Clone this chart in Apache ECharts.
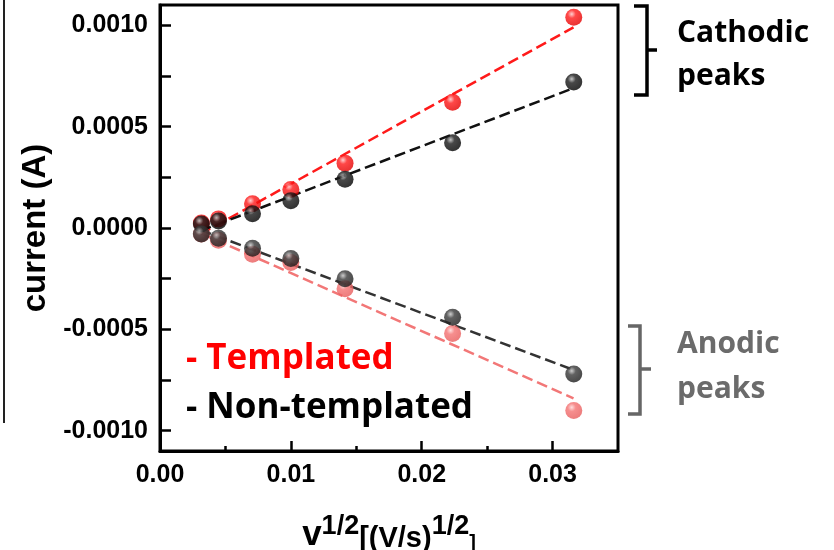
<!DOCTYPE html>
<html>
<head>
<meta charset="utf-8">
<script src="https://cdn.jsdelivr.net/npm/echarts@6/dist/echarts.min.js"></script>
<style>
  html, body { margin: 0; padding: 0; background: #fff; }
  #chart { width: 834px; height: 550px; }
</style>
</head>
<body>
<div id="chart"></div>
<script>
// square root of scan rate, (V/s)^1/2
const sqrtRate = [0.00316, 0.00447, 0.00707, 0.0100, 0.01414, 0.02236, 0.03162];

// cathodic peak currents (A)
const cathTemplated = [0.000025, 0.000045, 0.00012, 0.00019, 0.00032, 0.00062, 0.00104];
const cathNonTemplated = [0.00002, 0.000035, 0.00007, 0.000135, 0.00024, 0.00042, 0.00072];
// anodic peak currents (A)
const anodTemplated = [-0.00003, -0.00006, -0.00013, -0.00017, -0.0003, -0.00052, -0.0009];
const anodNonTemplated = [-0.00003, -0.00005, -0.0001, -0.00015, -0.00025, -0.00044, -0.00072];

// linear fit lines, end points
const fitCathTemplated = [[0.0031, -0.00003], [0.0316, 0.00099]];
const fitCathNonTemplated = [[0.0031, -0.000014], [0.0316, 0.00069]];
const fitAnodTemplated = [[0.0031, -0.000025], [0.0316, -0.00084]];
const fitAnodNonTemplated = [[0.0031, -0.00001], [0.0316, -0.0007]];

const xMajor = [0, 0.01, 0.02, 0.03];
const xMinor = [0.005, 0.015, 0.025];
const yLabels = [-0.001, -0.0005, 0, 0.0005, 0.001];
const yTicks = [-0.001, -0.00075, -0.0005, -0.00025, 0, 0.00025, 0.0005, 0.00075, 0.001];

const pair = (xs, ys) => xs.map((x, i) => [x, ys[i]]);

function ball(hi, mid, edge) {
  return {
    type: 'radial', x: 0.38, y: 0.32, r: 0.68,
    colorStops: [
      { offset: 0, color: hi },
      { offset: 0.35, color: mid },
      { offset: 1, color: edge }
    ]
  };
}

const chart = echarts.init(document.getElementById('chart'));
const labelFont = { fontFamily: 'Liberation Sans', fontWeight: 'bold', color: '#000' };

function fitLine(data, color) {
  return {
    type: 'line', data: data, symbol: 'none', z: 2, silent: true,
    lineStyle: { color: color, width: 2.5, type: [11, 5] }
  };
}
function dots(data, fill) {
  return {
    type: 'scatter', data: data, symbol: 'circle', symbolSize: 17, z: 3,
    itemStyle: { color: fill }
  };
}

chart.setOption({
  animation: false,
  grid: {
    left: 160, right: 216, top: 5, bottom: 99,
    outerBoundsMode: 'none', containLabel: false,
    show: true, borderColor: '#000', borderWidth: 3, backgroundColor: '#fff'
  },
  xAxis: [{
    type: 'value', min: 0, max: 0.035, interval: 0.01,
    axisLine: { show: true, onZero: false, lineStyle: { color: '#000', width: 3 } },
    axisTick: { show: true, inside: true, length: 10, customValues: xMajor, lineStyle: { color: '#000', width: 2.5 } },
    axisLabel: Object.assign({ fontSize: 25, margin: 12, customValues: xMajor,
      formatter: v => v.toFixed(2) }, labelFont),
    splitLine: { show: false },
    name: '{v|v}{sup|1/2}{sub|[(V/s)}{sup|1/2}{br|]}',
    nameLocation: 'middle', nameGap: 62,
    nameTextStyle: {
      rich: {
        v: { fontFamily: 'Liberation Sans', fontWeight: 'bold', fontSize: 35, lineHeight: 40, verticalAlign: 'bottom', color: '#000' },
        sup: { fontFamily: 'Liberation Sans', fontWeight: 'bold', fontSize: 27, lineHeight: 26, verticalAlign: 'top', color: '#000' },
        sub: { fontFamily: 'Liberation Sans', fontWeight: 'bold', fontSize: 29, lineHeight: 28, verticalAlign: 'bottom', color: '#000' },
        br: { fontFamily: 'Liberation Sans', fontWeight: 'bold', fontSize: 20, lineHeight: 20, verticalAlign: 'bottom', color: '#000' }
      }
    }
  }, {
    type: 'value', min: 0, max: 0.035, position: 'bottom',
    axisLine: { show: false, onZero: false },
    axisTick: { show: true, inside: true, length: 5, customValues: xMinor, lineStyle: { color: '#000', width: 2.5 } },
    axisLabel: { show: false },
    splitLine: { show: false }
  }],
  yAxis: {
    type: 'value', min: -0.0011, max: 0.0011,
    axisLine: { show: true, onZero: false, lineStyle: { color: '#000', width: 3 } },
    axisTick: { show: true, inside: true, length: 11, customValues: yTicks, lineStyle: { color: '#000', width: 2.5 } },
    axisLabel: Object.assign({ fontSize: 25, margin: 12, customValues: yLabels,
      formatter: v => v.toFixed(4) }, labelFont),
    splitLine: { show: false },
    name: 'current (A)', nameLocation: 'middle', nameGap: 108,
    nameTextStyle: { fontFamily: 'Liberation Sans', fontWeight: 'bold', fontSize: 33, color: '#000' }
  },
  series: [
    fitLine(fitCathTemplated, '#ff1a1a'),
    fitLine(fitCathNonTemplated, '#111'),
    fitLine(fitAnodTemplated, '#f27777'),
    fitLine(fitAnodNonTemplated, '#333'),
    dots(pair(sqrtRate, cathTemplated), ball('#ffc4c4', '#ff1a1a', '#e40000')),
    dots(pair(sqrtRate, anodTemplated), ball('#ffd6d6', '#f47272', '#e85c5c')),
    dots(pair(sqrtRate, cathNonTemplated), ball('#b8b8b8', '#1a1a1a', '#000')),
    dots(pair(sqrtRate, anodNonTemplated), ball('#c0c0c0', '#3a3a3a', '#1c1c1c'))
  ],
  graphic: [
    // leftover frame edge at the far left
    { type: 'line', shape: { x1: 4, y1: 0, x2: 4, y2: 423 }, style: { stroke: '#222', lineWidth: 2 } },
    // legend text
    { type: 'text', left: 186, top: 342, style: { text: '- Templated', fill: '#ff0000',
      font: 'bold 35px "Open Sans"' } },
    { type: 'text', left: 186, top: 391, style: { text: '- Non-templated', fill: '#000',
      font: 'bold 35px "Open Sans"' } },
    // cathodic bracket
    { type: 'polyline', shape: { points: [[634, 6], [647, 6], [647, 95], [634, 95]] },
      style: { stroke: '#000', lineWidth: 3.5, fill: null } },
    { type: 'line', shape: { x1: 647, y1: 50, x2: 657, y2: 50 }, style: { stroke: '#000', lineWidth: 3.5 } },
    { type: 'text', left: 677, top: 12, style: { text: 'Cathodic\npeaks', fill: '#000',
      font: 'bold 30px "Open Sans"', lineHeight: 43 } },
    // anodic bracket
    { type: 'polyline', shape: { points: [[628, 326], [640, 326], [640, 414], [628, 414]] },
      style: { stroke: '#666', lineWidth: 3.5, fill: null } },
    { type: 'line', shape: { x1: 640, y1: 369, x2: 651, y2: 369 }, style: { stroke: '#666', lineWidth: 3.5 } },
    { type: 'text', left: 677, top: 322, style: { text: 'Anodic\npeaks', fill: '#6b6b6b',
      font: 'bold 30px "Open Sans"', lineHeight: 45 } }
  ]
});
</script>
</body>
</html>
